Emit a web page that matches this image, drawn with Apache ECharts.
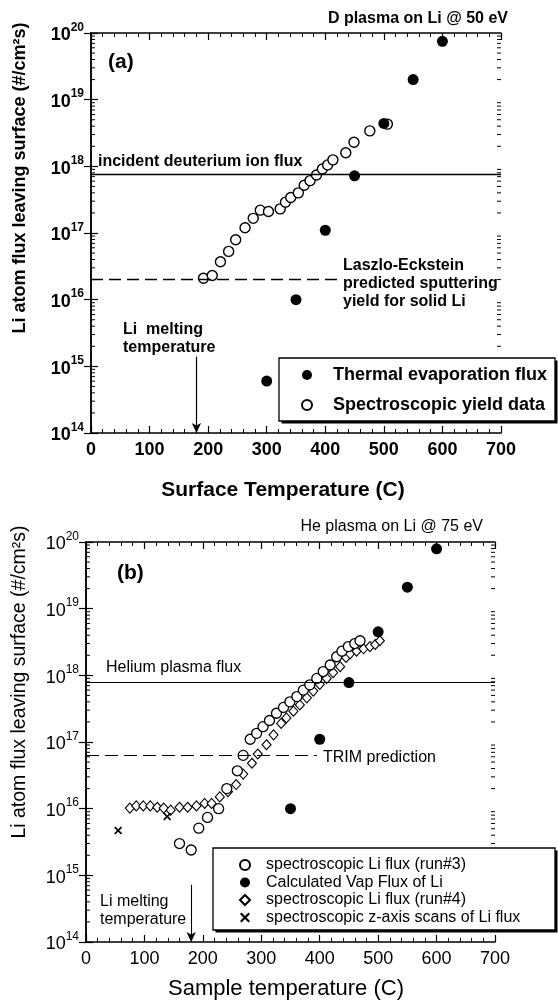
<!DOCTYPE html>
<html>
<head>
<meta charset="utf-8">
<script src="https://cdn.jsdelivr.net/npm/echarts@6/dist/echarts.min.js"></script>
<style>
html, body { margin: 0; padding: 0; background: #fff; }
#chart { width: 558px; height: 1002px; }
</style>
</head>
<body>
<div id="chart"></div>
<script>
const FONT = '"Liberation Sans", Arial, sans-serif'

// ---- panel (a): D plasma on Li @ 50 eV ----
const aEvapTemp = [300, 350, 400, 450, 500, 550, 600]
const aEvapFlux = [6e14, 1e16, 1.1e17, 7.2e17, 4.4e18, 2e19, 7.5e19]
const aSpecTemp = [192, 207, 221, 235, 247, 263, 277, 289, 303, 323, 332, 341, 354, 364, 374, 385, 395, 404, 413, 435, 449, 476, 506]
const aSpecFlux = [2.1e16, 2.3e16, 3.7e16, 5.3e16, 7.9e16, 1.2e17, 1.66e17, 2.2e17, 2.1e17, 2.3e17, 2.9e17, 3.4e17, 4e17, 5.2e17, 6.1e17, 7.4e17, 9.1e17, 1.05e18, 1.25e18, 1.6e18, 2.3e18, 3.4e18, 4.3e18]
const aIonFlux = 7.5e17
const aLaszloFlux = 2e16
const aLaszloEnd = 420
const aArrowTop = 1.4e15

// ---- panel (b): He plasma on Li @ 75 eV ----
const bEvapTemp = [350, 400, 450, 500, 550, 600]
const bEvapFlux = [1e16, 1.1e17, 7.8e17, 4.5e18, 2.1e19, 7.9e19]
const bRun3Temp = [160, 180, 193, 208, 227, 241, 259, 269, 281, 292, 303, 314, 326, 338, 349, 361, 372, 383, 395, 406, 418, 429, 438, 449, 460, 469]
const bRun3Flux = [3.0e15, 2.4e15, 5.1e15, 7.4e15, 1.0e16, 2.0e16, 3.7e16, 6.3e16, 1.1e17, 1.35e17, 1.7e17, 2.1e17, 2.7e17, 3.3e17, 4.0e17, 4.8e17, 6.0e17, 7.2e17, 9.0e17, 1.14e18, 1.43e18, 1.9e18, 2.3e18, 2.7e18, 3.0e18, 3.3e18]
const bRun4Temp = [75, 86, 98, 110, 122, 133, 145, 160, 174, 189, 203, 215, 229, 243, 257, 269, 284, 294, 309, 321, 334, 343, 355, 366, 378, 389, 400, 412, 423, 435, 445, 452, 463, 475, 486, 495, 503]
const bRun4Flux = [1.02e16, 1.1e16, 1.1e16, 1.1e16, 1.05e16, 1.02e16, 9.5e15, 1.05e16, 1.05e16, 1.1e16, 1.2e16, 1.2e16, 1.5e16, 1.8e16, 2.3e16, 3.3e16, 4.8e16, 6.6e16, 9.1e16, 1.28e17, 1.9e17, 2.3e17, 2.9e17, 3.6e17, 4.6e17, 5.8e17, 7.3e17, 9.0e17, 1.1e18, 1.35e18, 1.85e18, 2.1e18, 2.3e18, 2.5e18, 2.7e18, 2.9e18, 3.3e18]
const bZscanTemp = [55, 139]
const bZscanFlux = [4.7e15, 7.6e15]
const bHeFlux = 8e17
const bTrimFlux = 6.3e16
const bTrimEnd = 395
const bArrowTop = 7.2e14

const meltTemp = 180
const xMin = 0
const xMax = 700
const xStep = 100
const yMin = 1e14
const yMax = 1e20
const minorFactors = [2, 3, 4, 5, 6, 7, 8, 9]
const decades = [14, 15, 16, 17, 18, 19]

const CROSS = 'path://M0,1.5L1.5,0L5,3.5L8.5,0L10,1.5L6.5,5L10,8.5L8.5,10L5,6.5L1.5,10L0,8.5L3.5,5Z'

const minorVals = []
decades.forEach(d => minorFactors.forEach(f => minorVals.push(f * Math.pow(10, d))))

const zip = (xs, ys) => xs.map((x, i) => [x, ys[i]])

function xAxes (grid, bold, name, nameGap, shift, nameSize) {
  const base = {
    gridIndex: grid,
    type: 'value',
    min: xMin,
    max: xMax,
    interval: xStep,
    axisLine: { lineStyle: { color: '#000', width: 1.5 } },
    axisTick: { inside: true, length: 7, lineStyle: { color: '#000', width: 1.2 } },
    minorTick: { show: true, splitNumber: 5, length: 4, lineStyle: { color: '#000', width: 1 } },
    splitLine: { show: false },
    minorSplitLine: { show: false }
  }
  return [
    Object.assign({}, base, {
      position: 'bottom',
      axisLabel: { color: '#000', fontSize: 18, fontWeight: bold ? 'bold' : 'normal', fontFamily: FONT, margin: 8 },
      name: name,
      nameLocation: 'middle',
      nameGap: nameGap,
      nameTextStyle: { color: '#000', fontSize: nameSize, fontWeight: bold ? 'bold' : 'normal', fontFamily: FONT, padding: [0, shift, 0, 0] }
    }),
    Object.assign({}, base, { position: 'top', axisLabel: { show: false } })
  ]
}

function yAxes (grid, bold) {
  const base = {
    gridIndex: grid,
    type: 'log',
    logBase: 10,
    min: yMin,
    max: yMax,
    axisLine: { lineStyle: { color: '#000', width: 1.5 } },
    axisTick: { inside: true, length: 7, lineStyle: { color: '#000', width: 1.2 } },
    splitLine: { show: false }
  }
  const w = bold ? 'bold' : 'normal'
  return [
    Object.assign({}, base, {
      position: 'left',
      axisLabel: {
        margin: 7,
        formatter: v => '{b|10}{s|' + Math.round(Math.log10(v)) + '}',
        rich: {
          b: { fontSize: 18, fontWeight: w, fontFamily: FONT, color: '#000', verticalAlign: 'bottom', padding: [5, 0, 0, 0] },
          s: { fontSize: 12, fontWeight: w, fontFamily: FONT, color: '#000', verticalAlign: 'top' }
        }
      }
    }),
    Object.assign({}, base, { position: 'right', axisLabel: { show: false } })
  ]
}

// log minor ticks (2..9 per decade) on both vertical edges
function minorTickSeries (xi, yi) {
  return {
    type: 'custom',
    xAxisIndex: xi,
    yAxisIndex: yi,
    silent: true,
    clip: false,
    z: 3,
    data: minorVals.map(v => [xMin, v]),
    renderItem: (params, api) => {
      const l = api.coord([xMin, api.value(1)])
      const r = api.coord([xMax, api.value(1)])
      const st = { stroke: '#000', lineWidth: 1 }
      return {
        type: 'group',
        children: [
          { type: 'line', shape: { x1: l[0], y1: l[1], x2: l[0] + 4, y2: l[1] }, style: st },
          { type: 'line', shape: { x1: r[0], y1: r[1], x2: r[0] - 4, y2: r[1] }, style: st }
        ]
      }
    }
  }
}

function txt (x, y, text, size, bold, align, extra) {
  return Object.assign({
    type: 'text',
    x: x,
    y: y,
    z: 20,
    style: {
      text: text,
      fill: '#000',
      font: (bold ? 'bold ' : '') + size + 'px ' + FONT,
      textAlign: align || 'left',
      align: align || 'left',
      textVerticalAlign: 'middle',
      verticalAlign: 'middle'
    }
  }, extra || {})
}

function box (x, y, w, h) {
  return [
    { type: 'rect', z: 8, shape: { x: x + 2.5, y: y + 2.5, width: w, height: h }, style: { fill: '#000' } },
    { type: 'rect', z: 9, shape: { x: x, y: y, width: w, height: h }, style: { fill: '#fff', stroke: '#000', lineWidth: 1.3 } }
  ]
}

const noLine = { show: false }
const markBase = { silent: true, symbol: 'none', label: noLine, emphasis: { disabled: true }, animation: false }

const chart = echarts.init(document.getElementById('chart'), null, { renderer: 'canvas' })
chart.setOption({
  animation: false,
  backgroundColor: '#fff',
  grid: [
    { left: 91, right: 57, top: 33, height: 400, containLabel: false, outerBoundsMode: 'none' },
    { left: 86, right: 63, top: 542, height: 400, containLabel: false, outerBoundsMode: 'none' }
  ],
  xAxis: [].concat(
    xAxes(0, true, 'Surface Temperature (C)', 47, 26, 21),
    xAxes(1, false, 'Sample temperature (C)', 36, 9, 22)
  ),
  yAxis: [].concat(yAxes(0, true), yAxes(1, false)),
  legend: [
    {
      data: ['Thermal evaporation flux', 'Spectroscopic yield data'],
      orient: 'vertical',
      align: 'left',
      left: 294,
      top: 358,
      padding: [8, 9, 8, 7],
      itemWidth: 10,
      itemHeight: 10,
      itemGap: 12,
      z: 12,
      selectedMode: false,
      textStyle: { color: '#000', fontSize: 18, fontWeight: 'bold', fontFamily: FONT, lineHeight: 18, padding: [0, 0, 0, 16] }
    },
    {
      data: ['spectroscopic Li flux (run#3)', 'Calculated Vap Flux of Li', 'spectroscopic Li flux (run#4)', 'spectroscopic z-axis scans of Li flux'],
      orient: 'vertical',
      align: 'left',
      left: 224,
      top: 848,
      padding: [9, 20, 6, 15],
      itemWidth: 10,
      itemHeight: 10,
      itemGap: 1.5,
      z: 12,
      selectedMode: false,
      textStyle: { color: '#000', fontSize: 16, fontFamily: FONT, lineHeight: 16, padding: [0, 0, 0, 11] }
    }
  ],
  graphic: {
    elements: [].concat(
      box(279, 358, 276, 63),
      box(213, 848, 342, 82),
      [
        txt(508, 19, 'D plasma on Li @ 50 eV', 16, true, 'right'),
        txt(108, 62, '(a)', 21, true),
        txt(98, 162, 'incident deuterium ion flux', 16, true),
        txt(343, 266, 'Laszlo-Eckstein', 16, true),
        txt(343, 284, 'predicted sputtering', 16, true),
        txt(343, 302, 'yield for solid Li', 16, true),
        txt(123, 330, 'Li  melting', 16, true),
        txt(123, 348, 'temperature', 16, true),
        txt(20, 178, 'Li atom flux leaving surface (#/cm²s)', 18, true, 'center', { rotation: Math.PI / 2 }),

        txt(483, 527, 'He plasma on Li @ 75 eV', 16, false, 'right'),
        txt(117, 573, '(b)', 21, true),
        txt(106, 668, 'Helium plasma flux', 16, false),
        txt(323, 758, 'TRIM prediction', 16, false),
        txt(100, 902, 'Li melting', 16, false),
        txt(100, 920, 'temperature', 16, false),
        txt(20, 682, 'Li atom flux leaving surface (#/cm²s)', 19.5, false, 'center', { rotation: Math.PI / 2 })
      ]
    )
  },
  series: [
    minorTickSeries(0, 0),
    minorTickSeries(2, 2),
    {
      name: 'Spectroscopic yield data',
      type: 'scatter',
      xAxisIndex: 0,
      yAxisIndex: 0,
      symbol: 'circle',
      symbolSize: 10,
      itemStyle: { color: '#fff', borderColor: '#000', borderWidth: 1.4, opacity: 1 },
      data: zip(aSpecTemp, aSpecFlux),
      markLine: Object.assign({}, markBase, {
        symbol: ['none', 'arrow'],
        symbolSize: [7, 10],
        lineStyle: { color: '#000', width: 1.2, type: 'solid' },
        data: [[{ coord: [meltTemp, aArrowTop] }, { coord: [meltTemp, yMin] }]]
      })
    },
    {
      name: 'Thermal evaporation flux',
      type: 'scatter',
      xAxisIndex: 0,
      yAxisIndex: 0,
      symbol: 'circle',
      symbolSize: 11,
      itemStyle: { color: '#000', opacity: 1 },
      data: zip(aEvapTemp, aEvapFlux),
      markLine: Object.assign({}, markBase, {
        data: [
          { yAxis: aIonFlux, lineStyle: { color: '#000', width: 1.3, type: 'solid' } },
          [
            { coord: [xMin, aLaszloFlux], lineStyle: { color: '#000', width: 1.3, type: [12, 6] } },
            { coord: [aLaszloEnd, aLaszloFlux] }
          ]
        ]
      })
    },
    {
      name: 'spectroscopic Li flux (run#4)',
      type: 'scatter',
      xAxisIndex: 2,
      yAxisIndex: 2,
      symbol: 'diamond',
      symbolSize: [9, 10],
      itemStyle: { color: '#fff', borderColor: '#000', borderWidth: 1.1, opacity: 1 },
      data: zip(bRun4Temp, bRun4Flux),
      markLine: Object.assign({}, markBase, {
        symbol: ['none', 'arrow'],
        symbolSize: [7, 10],
        lineStyle: { color: '#000', width: 1.1, type: 'solid' },
        data: [[{ coord: [meltTemp, bArrowTop] }, { coord: [meltTemp, yMin] }]]
      })
    },
    {
      name: 'spectroscopic Li flux (run#3)',
      type: 'scatter',
      xAxisIndex: 2,
      yAxisIndex: 2,
      symbol: 'circle',
      symbolSize: 10,
      itemStyle: { color: '#fff', borderColor: '#000', borderWidth: 1.3, opacity: 1 },
      data: zip(bRun3Temp, bRun3Flux)
    },
    {
      name: 'spectroscopic z-axis scans of Li flux',
      type: 'scatter',
      xAxisIndex: 2,
      yAxisIndex: 2,
      symbol: CROSS,
      symbolSize: 8,
      itemStyle: { color: '#000', opacity: 1 },
      data: zip(bZscanTemp, bZscanFlux)
    },
    {
      name: 'Calculated Vap Flux of Li',
      type: 'scatter',
      xAxisIndex: 2,
      yAxisIndex: 2,
      symbol: 'circle',
      symbolSize: 11,
      itemStyle: { color: '#000', opacity: 1 },
      data: zip(bEvapTemp, bEvapFlux),
      markLine: Object.assign({}, markBase, {
        data: [
          { yAxis: bHeFlux, lineStyle: { color: '#000', width: 1.2, type: 'solid' } },
          [
            { coord: [xMin, bTrimFlux], lineStyle: { color: '#000', width: 1.2, type: [13, 6] } },
            { coord: [bTrimEnd, bTrimFlux] }
          ]
        ]
      })
    }
  ]
})
</script>
</body>
</html>
